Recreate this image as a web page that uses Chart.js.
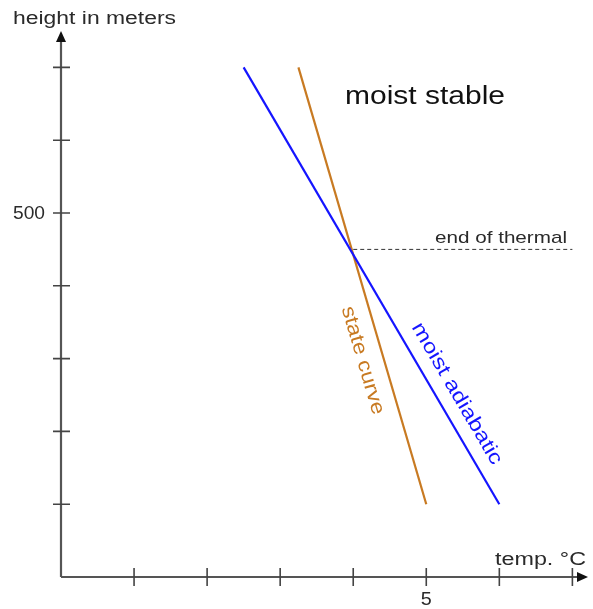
<!DOCTYPE html>
<html>
<head>
<meta charset="utf-8">
<script src="https://cdn.jsdelivr.net/npm/chart.js@4"></script>
<style>
  body { margin: 0; background: #fff; }
  canvas { display: block; }
</style>
</head>
<body>
<canvas id="chart" width="593" height="609"></canvas>
<script>
// temperature in degrees C, height in meters
const tempTicks = [1, 2, 3, 4, 5, 6, 7];
const heightTicks = [100, 200, 300, 400, 500, 600, 700];
const tempTickLabels = { 5: "5" };
const heightTickLabels = { 500: "500" };

const moistAdiabaticTemp = [2.5, 6];
const moistAdiabaticHeight = [700, 100];
const stateCurveTemp = [3.25, 5];
const stateCurveHeight = [700, 100];
const thermalEndTemp = [4, 7];
const thermalEndHeight = [450, 450];

const toPoints = (xs, ys) => xs.map((x, i) => ({ x: x, y: ys[i] }));

const AXIS = "#555";
const TEXT = "#2a2a2a";
const BLUE = "#1515ff";
const ORANGE = "#c87a22";

// draws text squeezed/stretched to a given width, optionally rotated
function fitText(ctx, text, x, y, width, size, color, angle, align) {
  ctx.save();
  ctx.font = size + "px 'Liberation Sans', Arial, sans-serif";
  ctx.fillStyle = color;
  ctx.textBaseline = "alphabetic";
  ctx.textAlign = "left";
  const w = ctx.measureText(text).width;
  ctx.translate(x, y);
  if (angle) ctx.rotate(angle);
  ctx.scale(width / w, 1);
  let x0 = 0;
  if (align === "right") x0 = -w;
  else if (align === "center") x0 = -w / 2;
  ctx.fillText(text, x0, 0);
  ctx.restore();
}

const axesPlugin = {
  id: "axes",
  beforeDatasetsDraw(chart) {
    const { ctx, chartArea, scales } = chart;
    const x0 = scales.x.getPixelForValue(0);
    const y0 = scales.y.getPixelForValue(0);
    ctx.save();
    ctx.strokeStyle = AXIS;
    ctx.lineWidth = 2.2;
    ctx.beginPath();
    ctx.moveTo(x0, y0);
    ctx.lineTo(chartArea.right - 8, y0);
    ctx.moveTo(x0, y0);
    ctx.lineTo(x0, chartArea.top + 8);
    ctx.stroke();

    // arrow heads
    ctx.fillStyle = "#111";
    ctx.beginPath();
    ctx.moveTo(chartArea.right + 1, y0);
    ctx.lineTo(chartArea.right - 10, y0 - 5);
    ctx.lineTo(chartArea.right - 10, y0 + 5);
    ctx.closePath();
    ctx.fill();
    ctx.beginPath();
    ctx.moveTo(x0, chartArea.top);
    ctx.lineTo(x0 - 5, chartArea.top + 11);
    ctx.lineTo(x0 + 5, chartArea.top + 11);
    ctx.closePath();
    ctx.fill();

    // tick marks
    ctx.strokeStyle = "#444";
    ctx.lineWidth = 1.6;
    ctx.beginPath();
    tempTicks.forEach((t) => {
      const px = scales.x.getPixelForValue(t);
      ctx.moveTo(px, y0 - 9);
      ctx.lineTo(px, y0 + 9);
    });
    heightTicks.forEach((h) => {
      const py = scales.y.getPixelForValue(h);
      ctx.moveTo(x0 - 8, py);
      ctx.lineTo(x0 + 9, py);
    });
    ctx.stroke();
    ctx.restore();
  },
  afterDatasetsDraw(chart) {
    const { ctx, scales } = chart;
    const x0 = scales.x.getPixelForValue(0);
    const y0 = scales.y.getPixelForValue(0);

    Object.keys(tempTickLabels).forEach((t) => {
      const px = scales.x.getPixelForValue(+t);
      fitText(ctx, tempTickLabels[t], px, y0 + 28, 11, 18, TEXT, 0, "center");
    });
    Object.keys(heightTickLabels).forEach((h) => {
      const py = scales.y.getPixelForValue(+h);
      fitText(ctx, heightTickLabels[h], x0 - 16, py + 6, 32, 18, TEXT, 0, "right");
    });

    fitText(ctx, "height in meters", 13, 24, 163, 18, TEXT, 0);
    fitText(ctx, "temp. \u00b0C", 495, 565, 91, 18, TEXT, 0);
    fitText(ctx, "moist stable", 345, 104, 160, 26, "#111", 0);
    fitText(ctx, "end of thermal", 435, 243, 132, 17, TEXT, 0);

    // labels running along the two curves
    const aState = Math.atan2(435, 127);
    const aMoist = Math.atan2(435, 255);
    fitText(ctx, "state curve", 364 - 7 * Math.sin(aState), 360 + 7 * Math.cos(aState), 112, 20, ORANGE, aState, "center");
    fitText(ctx, "moist adiabatic", 458 - 7 * Math.sin(aMoist), 393 + 7 * Math.cos(aMoist), 161, 20, BLUE, aMoist, "center");
  },
};

new Chart(document.getElementById("chart"), {
  type: "scatter",
  data: {
    datasets: [
      {
        label: "moist adiabatic",
        data: toPoints(moistAdiabaticTemp, moistAdiabaticHeight),
        showLine: true,
        borderColor: BLUE,
        borderWidth: 2.2,
        pointRadius: 0,
      },
      {
        label: "state curve",
        data: toPoints(stateCurveTemp, stateCurveHeight),
        showLine: true,
        borderColor: ORANGE,
        borderWidth: 2.2,
        pointRadius: 0,
      },
      {
        label: "end of thermal",
        data: toPoints(thermalEndTemp, thermalEndHeight),
        showLine: true,
        borderColor: "#333",
        borderWidth: 1,
        borderDash: [4, 3],
        pointRadius: 0,
      },
    ],
  },
  options: {
    responsive: false,
    animation: false,
    layout: { padding: { left: 61, right: 6, top: 31, bottom: 32 } },
    plugins: {
      legend: { display: false },
      tooltip: { enabled: false },
    },
    scales: {
      x: { type: "linear", min: 0, max: 7.2, display: false },
      y: { type: "linear", min: 0, max: 750, display: false },
    },
  },
  plugins: [axesPlugin],
});
</script>
</body>
</html>
